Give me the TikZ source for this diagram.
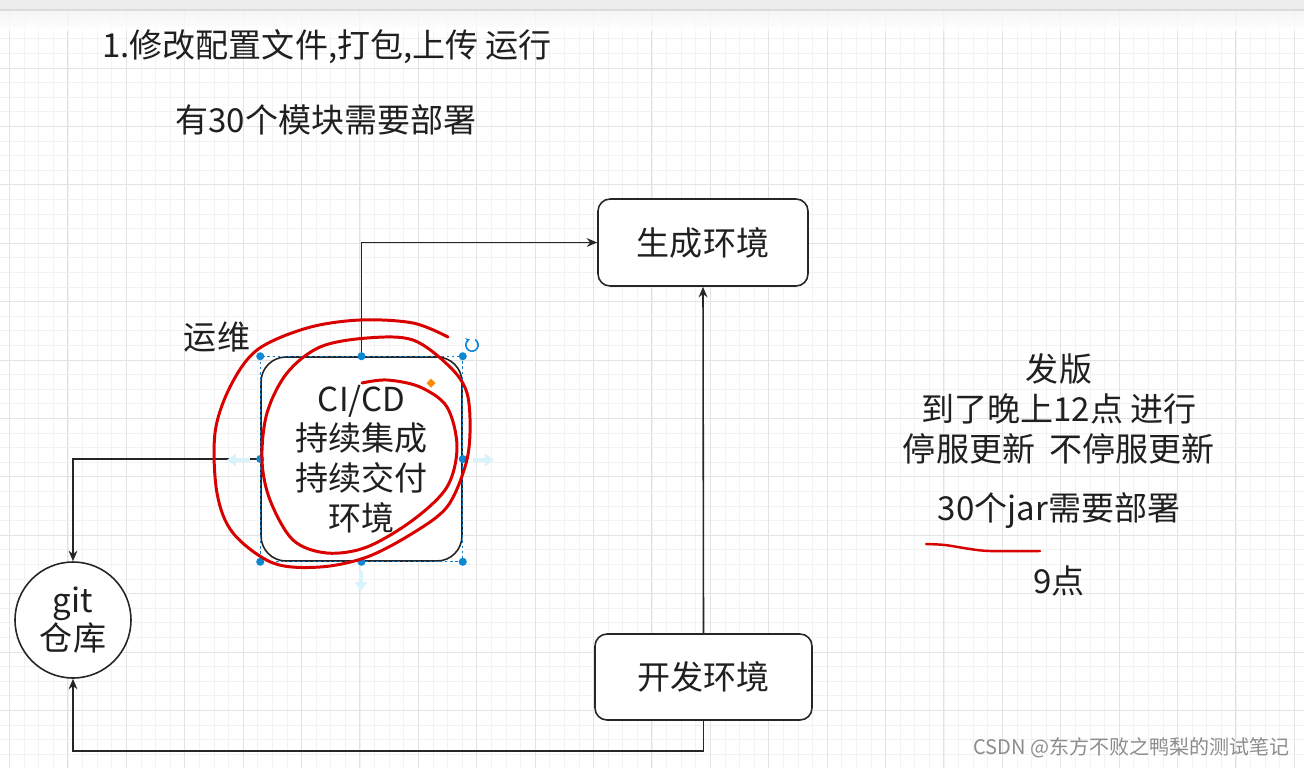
\documentclass[tikz,border=0pt]{standalone}
\usepackage{fontspec}
\setmainfont{Noto Sans CJK SC}
\usetikzlibrary{arrows.meta}

\begin{document}
\begin{tikzpicture}[x=0.02cm, y=-0.02cm, >={Stealth[length=6pt,width=5pt]},
  every node/.style={font=\fontsize{18.8}{22.8}\selectfont, text=black!88, inner sep=0pt},
  envbox/.style={draw=black!85, line width=0.9pt, rounded corners=0.24cm, fill=white},
  link/.style={->, draw=black!85, line width=0.9pt},
  gridminor/.style={draw=black!5, line width=0.4pt},
  gridmajor/.style={draw=black!11, line width=0.5pt},
  redpen/.style={draw=red!85!black, line width=1.7pt, line cap=round, line join=round},
  selbox/.style={draw=cyan!60!blue, line width=0.5pt, dash pattern=on 1.5pt off 1.5pt},
  handle/.style={fill=cyan!70!blue},
  ghost/.style={draw=cyan!15, line width=2pt, -{Triangle[length=5pt,width=7pt]}}]
  \useasboundingbox (0,0) rectangle (1304,768);

  % --- 背景：网格 ---
  \fill[white] (0,0) rectangle (1304,768);
  \foreach \i in {0,...,88} \draw[gridminor] (9.5+14.6*\i,10) -- (9.5+14.6*\i,768);
  \foreach \i in {0,...,51} \draw[gridminor] (0,9.6+14.6*\i) -- (1304,9.6+14.6*\i);
  \foreach \i in {0,...,22} \draw[gridmajor] (9.5+58.4*\i,10) -- (9.5+58.4*\i,768);
  \foreach \i in {0,...,12} \draw[gridmajor] (0,9.6+58.4*\i) -- (1304,9.6+58.4*\i);
  \fill[black!7] (0,0) rectangle (1304,10);
  \shade[top color=black!5, bottom color=white, opacity=0.8] (0,10) rectangle (1304,30);
  \draw[black!14, line width=1pt] (0,10) -- (1304,10);

  % --- 标题 ---
  \node[anchor=west] (title) at (102,47) {1.修改配置文件,打包,上传 运行};
  \node (modules) at (326,120) {有30个模块需要部署};

  % --- 环境 ---
  \node[envbox, minimum width=4.2cm, minimum height=1.74cm] (prod) at (703,242.5) {生成环境};
  \node[envbox, minimum width=4.34cm, minimum height=1.72cm] (dev) at (703.5,677) {开发环境};
  \node[envbox, rounded corners=0.5cm, minimum width=4.02cm, minimum height=4.08cm,
        align=center, font=\fontsize{18.8}{22.6}\selectfont] (cicd) at (361.5,459)
        {CI/CD\\持续集成\\持续交付\\环境};
  \node[draw=black!85, line width=0.9pt, circle, minimum size=2.32cm, fill=white,
        align=center, font=\fontsize{18.8}{21.5}\selectfont] (git) at (73,620) {git\\仓库};
  \node (ops) at (217,337) {运维};

  % --- 连线 ---
  \draw[link] (cicd.north) |- (prod.west);
  \draw[link] (dev.north) -- (prod.south);
  \draw[link] (cicd.west) -| (git.north);
  \draw[link] (dev.south) -- ++(0,30) -| (git.south);

  % --- 选中状态 ---
  \draw[selbox] (cicd.north west) rectangle (cicd.south east);
  \foreach \a in {north west,north,north east,east,south east,south,south west,west}
    \fill[handle] (cicd.\a) circle[radius=2.3pt];
  \draw[ghost] (250,460) -- (227,460);
  \draw[ghost] (473,460) -- (494,460);
  \draw[ghost] (361,571) -- (361,591);
  \draw[cyan!70!blue, line width=0.9pt, -{Stealth[length=2.5pt,width=3pt]}]
    (472,345) ++(60:3.5pt) arc[start angle=60, end angle=-250, radius=3.5pt];
  \fill[orange!90!yellow] (431,378.5) -- (435.5,383) -- (431,387.5) -- (426.5,383) -- cycle;

  % --- 红笔圈 ---
  \draw[redpen] plot[smooth, tension=0.55] coordinates {
    (448,337) (413,323) (360,320) (307,328) (257,350) (230,387) (215,433)
    (217,493) (233,533) (273,563) (320,567) (367,557) (413,533) (447,507)
    (465,467) (470,433) (467,393) (450,367) (413,340) (367,338) (320,347)
    (287,373) (267,413) (262,460) (270,500) (293,540) (327,553) (367,547)
    (413,520) (447,487) (457,447) (447,407) (420,387) (387,380) (362,383)};

  % --- 右侧说明 ---
  \node[align=center, font=\fontsize{18.8}{22.8}\selectfont] (release) at (1059,409)
    {发版\\到了晚上12点 进行\\停服更新\ \ 不停服更新};
  \node (jars) at (1059,511) {30个jar需要部署};
  \draw[redpen, line width=1.4pt] plot[smooth] coordinates
    {(926,544) (945,545) (970,549) (990,551) (1040,551)};
  \node (nine) at (1059,581) {9点};

  % --- 水印 ---
  \node[anchor=east, text=black!45, font=\fontsize{11.4}{13}\selectfont] (mark) at (1290,748)
    {CSDN @东方不败之鸭梨的测试笔记};
\end{tikzpicture}
\end{document}
